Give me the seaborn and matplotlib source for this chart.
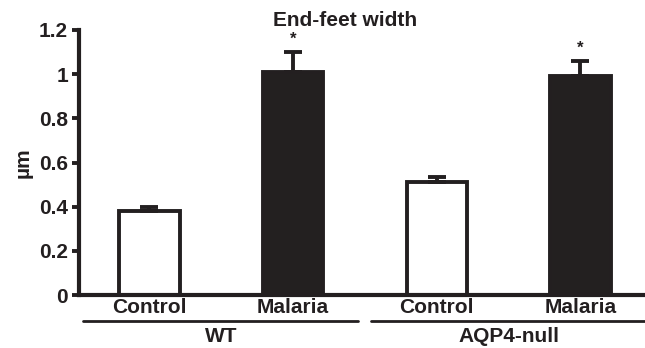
import numpy as np
import pandas as pd
import matplotlib
matplotlib.use("Agg")
from matplotlib import pyplot as plt
from matplotlib import transforms
import seaborn as sns

# data
groups = ["WT", "WT", "AQP4-null", "AQP4-null"]
conditions = ["Control", "Malaria", "Control", "Malaria"]
width_um = [0.38, 1.01, 0.51, 0.99]
sem_um = [0.02, 0.09, 0.025, 0.07]
significant = [False, True, False, True]

ink = "#231f20"
sns.set_style("ticks")
plt.rcParams["font.family"] = ["Liberation Sans", "DejaVu Sans"]
plt.rcParams["font.weight"] = "bold"

df = pd.DataFrame({"bar": [f"{g} {c}" for g, c in zip(groups, conditions)],
                   "condition": conditions, "width": width_um})

fig = plt.figure(figsize=(6.45, 3.48), dpi=100)
ax = fig.add_axes([0.1225, 0.152, 0.8775, 0.762])

colors = ["white" if c == "Control" else ink for c in conditions]
sns.barplot(data=df, x="bar", y="width", hue="bar", palette=colors, legend=False,
            width=0.42, edgecolor=ink, linewidth=2.8, errorbar=None, ax=ax)

pos = np.arange(len(width_um))
ax.errorbar(pos, width_um, yerr=[np.zeros(len(sem_um)), sem_um], fmt="none",
            ecolor=ink, elinewidth=2.8, capsize=6.5, capthick=2.8, zorder=1)
for x, v, e, s in zip(pos, width_um, sem_um, significant):
    if s:
        ax.text(x, v + e + 0.025, "*", ha="center", va="bottom", fontsize=12, color=ink)

fs = 15
ax.set_ylim(0, 1.2)
ax.set_xlim(-0.49, 3.45)
ax.set_yticks([0, 0.2, 0.4, 0.6, 0.8, 1, 1.2])
ax.set_yticklabels(["0", "0.2", "0.4", "0.6", "0.8", "1", "1.2"])
ax.set_xticks(pos)
ax.set_xticklabels(conditions)
ax.tick_params(axis="x", length=0, pad=2, labelsize=fs, colors=ink)
ax.tick_params(axis="y", length=5, width=2.8, labelsize=fs, colors=ink, pad=3)
for lab in ax.get_xticklabels() + ax.get_yticklabels():
    lab.set_fontweight("bold")
sns.despine(ax=ax)
for sp in ["left", "bottom"]:
    ax.spines[sp].set_linewidth(3)
    ax.spines[sp].set_color(ink)
ax.set_xlabel("")
ax.set_ylabel("µm", fontsize=fs, fontweight="bold", color=ink, labelpad=0)
ax.yaxis.set_label_coords(-0.082, 0.5)
ax.set_title("End-feet width", fontsize=fs, fontweight="bold", color=ink, x=0.47, pad=1)

# group lines and labels under the axis
tr = transforms.blended_transform_factory(ax.transData, ax.transAxes)
ax.plot([-0.465, 1.45], [-0.097, -0.097], transform=tr, color=ink, lw=2, clip_on=False)
ax.plot([1.54, 3.5], [-0.097, -0.097], transform=tr, color=ink, lw=2, clip_on=False)
ax.text(0.5, -0.157, "WT", transform=tr, ha="center", va="center", fontsize=fs,
        fontweight="bold", color=ink)
ax.text(2.5, -0.157, "AQP4-null", transform=tr, ha="center", va="center", fontsize=fs,
        fontweight="bold", color=ink)

fig.savefig("out.png", dpi=100)
